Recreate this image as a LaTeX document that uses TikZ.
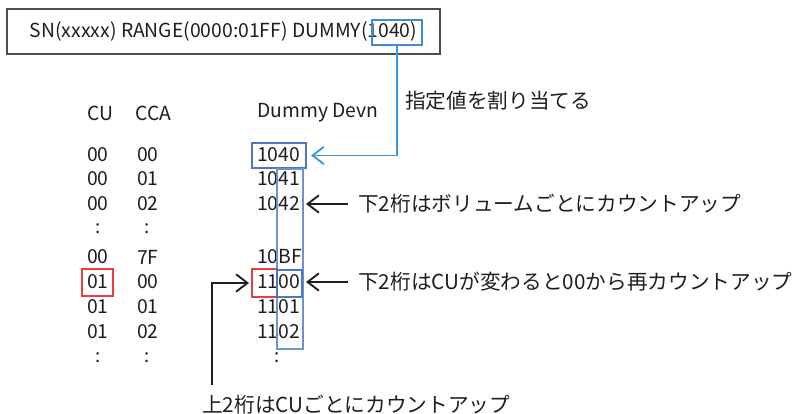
\documentclass[tikz,border=0pt]{standalone}
\usepackage{fontspec}
\setmainfont{Noto Sans CJK JP}
\usetikzlibrary{arrows.meta}
\definecolor{boxblue}{HTML}{4A76C6}
\definecolor{lineblue}{HTML}{3A98DE}
\definecolor{markred}{HTML}{EE3B3B}
\definecolor{inkgray}{HTML}{1E1E1E}
\definecolor{framegray}{HTML}{4D4D4D}
\tikzset{every node/.style={inner sep=0pt, text=inkgray},
  cell/.style={anchor=west, font=\fontsize{14.5}{16}\selectfont},
  dots/.style={font=\fontsize{14}{16}\selectfont},
  note/.style={anchor=west, font=\fontsize{15.5}{18}\selectfont},
  bluebox/.style={draw=boxblue, line width=1.5pt},
  redbox/.style={draw=markred, line width=1.5pt},
  pointer/.style={-{Straight Barb[length=8.5pt,width=13pt]}, line width=1.4pt}}

\begin{document}
\begin{tikzpicture}[x=0.75pt,y=-0.75pt]
  \useasboundingbox (0,0) rectangle (800,414);
  % command line
  \node (hdr) at (223.5,31.5) [draw=framegray, line width=1.5pt, minimum width=324.75pt, minimum height=33.75pt,
        font=\fontsize{14.5}{17}\selectfont] {SN(xxxxx) RANGE(0000:01FF) DUMMY(1040)};
  \node (dmy) at (397,32.5) [bluebox, draw=lineblue!60!boxblue, minimum width=37.5pt, minimum height=18.75pt] {};
  % table
  \node[cell] (hcu)  at (87,113)  {CU};
  \node[cell] (hcca) at (135,113) {CCA};
  \node[cell] (hdev) at (257,113) {Dummy Devn};
  \foreach \cu/\cca/\dev/\y [count=\i] in {00/00/1040/155, 00/01/1041/179, 00/02/1042/204,
                                            00/7F/10BF/257, 01/00/1100/282, 01/01/1101/307, 01/02/1102/332} {
    \node[cell] (cu\i)  at (87,\y)  {\cu};
    \node[cell] (cca\i) at (137,\y) {\cca};
    \node[cell] (dev\i) at (257,\y) {\dev};
  }
  \node[dots] (d1) at (98,229)  {:};
  \node[dots] (d2) at (147,229) {:};
  \node[dots] (d3) at (98,358)  {:};
  \node[dots] (d4) at (147,358) {:};
  \node[dots] (d5) at (277,358) {:};
  % highlight boxes
  \node (b1040) at (279,155.5) [bluebox, minimum width=40.5pt, minimum height=18.75pt] {};
  \node (col)   at (290,259)   [bluebox, draw=boxblue!80, minimum width=19.5pt, minimum height=135pt] {};
  \node (hi)    at (264.5,283) [redbox, minimum width=18.75pt, minimum height=21pt] {};
  \node (lo)    at (289.5,283.5) [bluebox, minimum width=18.75pt, minimum height=20.25pt] {};
  \node (cu01)  at (97.5,282.5) [redbox, minimum width=23.25pt, minimum height=20.25pt] {};
  % notes
  \node[note] (n1) at (405,101) {指定値を割り当てる};
  \node[note] (n2) at (358,204) {下2桁はボリュームごとにカウントアップ};
  \node[note] (n3) at (358,282) {下2桁はCUが変わると00から再カウントアップ};
  \node[note] (n4) at (202,405) {上2桁はCUごとにカウントアップ};
  \coordinate (up) at (212,385);
  % arrows
  \draw[pointer, lineblue] (dmy.south) |- ([xshift=3pt]b1040.east);
  \draw[pointer, inkgray] ([xshift=-7.5pt]n2.west) -- ([xshift=1.5pt]col.east |- n2.west);
  \draw[pointer, inkgray] ([xshift=-7.5pt]n3.west) -- ([xshift=1.5pt]col.east |- n3.west);
  \draw[pointer, inkgray] (up) |- ([xshift=-1.5pt]hi.west);
\end{tikzpicture}
\end{document}
